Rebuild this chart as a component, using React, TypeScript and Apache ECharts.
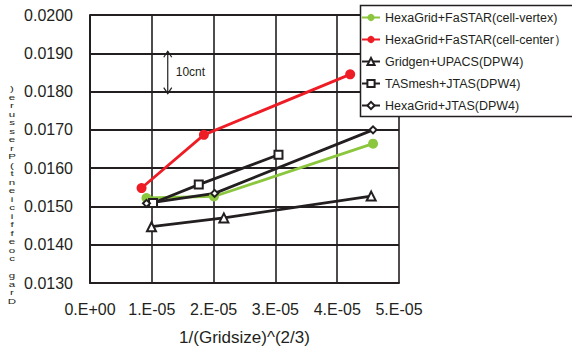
import React, { useEffect, useRef } from "react";
import * as echarts from "echarts";

const seriesNames = [
  "HexaGrid+FaSTAR(cell-vertex)",
  "HexaGrid+FaSTAR(cell-center）",
  "Gridgen+UPACS(DPW4)",
  "TASmesh+JTAS(DPW4)",
  "HexaGrid+JTAS(DPW4)",
];

const vertexX = [0.914e-5, 2.005e-5, 4.58e-5];
const vertexY = [0.01522, 0.01526, 0.01664];
const centerX = [0.834e-5, 1.843e-5, 4.21e-5];
const centerY = [0.01548, 0.01687, 0.01845];
const upacsX = [0.995e-5, 2.166e-5, 4.55e-5];
const upacsY = [0.01447, 0.0147, 0.01527];
const tasX = [1.02e-5, 1.76e-5, 3.05e-5];
const tasY = [0.01509, 0.01557, 0.01635];
const hexaJtasX = [0.914e-5, 2.016e-5, 4.58e-5];
const hexaJtasY = [0.01508, 0.01534, 0.017];

const yLabelText = "Drag coefficient(Pressure)";
const annotationText = "10cnt";
const annotationX = 1.258e-5;
const annotationY = [0.019, 0.018];

const FONT = "Liberation Sans, Arial, sans-serif";
const INK = "#231f20";

function pairs(xs: number[], ys: number[]) {
  return xs.map((x, i) => [x, ys[i]]);
}

export default function App() {
  const ref = useRef<HTMLDivElement>(null);
  useEffect(() => {
    if (!ref.current) return;
    const chart = echarts.init(ref.current, null, { renderer: "svg" });
    const lineSeries = (
      name: string,
      data: number[][],
      color: string,
      symbol: string,
      symbolSize: number
    ) => ({
      name,
      type: "line",
      data,
      symbol,
      symbolSize,
      z: 3,
      lineStyle: { color, width: 2.8 },
      itemStyle: { color, borderColor: color, borderWidth: symbol.startsWith("empty") ? 1.5 : 0 },
    });
    const option: any = {
      animation: false,
      grid: { left: 90, right: 173, top: 15, bottom: 64 },
      xAxis: {
        type: "value",
        min: 0,
        max: 5e-5,
        interval: 1e-5,
        name: "1/(Gridsize)^(2/3)",
        nameLocation: "middle",
        nameGap: 46,
        nameTextStyle: { fontFamily: FONT, fontSize: 17, color: INK },
        axisLine: { show: true, lineStyle: { color: INK, width: 2 } },
        axisTick: { show: false },
        axisLabel: {
          margin: 18,
          fontFamily: FONT,
          fontSize: 16,
          color: INK,
          formatter: (v: number) => {
            const n = Math.round(v * 1e5);
            return n === 0 ? "0.E+00" : n + ".E-05";
          },
        },
        splitLine: { show: true, lineStyle: { color: INK, width: 1.6 } },
      },
      yAxis: {
        type: "value",
        min: 0.013,
        max: 0.02,
        interval: 0.001,
        axisLine: { show: true, lineStyle: { color: INK, width: 2 } },
        axisTick: { show: false },
        axisLabel: {
          margin: 17,
          fontFamily: FONT,
          fontSize: 16,
          color: INK,
          formatter: (v: number) => v.toFixed(4),
        },
        splitLine: { show: true, lineStyle: { color: INK, width: 2 } },
      },
      legend: {
        orient: "vertical",
        left: 356,
        top: 6,
        itemWidth: 18,
        itemHeight: 9,
        itemGap: 9,
        z: 5,
        textStyle: { fontFamily: FONT, fontSize: 12.5, color: INK },
        data: seriesNames,
      },
      series: [
        lineSeries(seriesNames[0], pairs(vertexX, vertexY), "#8cc63f", "circle", 10),
        lineSeries(seriesNames[1], pairs(centerX, centerY), "#ee1c25", "circle", 10),
        lineSeries(seriesNames[2], pairs(upacsX, upacsY), INK, "emptyTriangle", 9),
        lineSeries(seriesNames[3], pairs(tasX, tasY), INK, "emptyRect", 8),
        lineSeries(seriesNames[4], pairs(hexaJtasX, hexaJtasY), INK, "emptyDiamond", 7),
      ],
    };
    chart.setOption(option);

    const p1 = chart.convertToPixel({ gridIndex: 0 }, [annotationX, annotationY[0]]) as number[];
    const p2 = chart.convertToPixel({ gridIndex: 0 }, [annotationX, annotationY[1]]) as number[];
    const ax = p1[0];
    const top = p1[1] - 2;
    const bot = p2[1] + 2;
    chart.setOption({
      graphic: [
        {
          type: "rect",
          z: 4,
          shape: { x: 360.5, y: 5.5, width: 240, height: 111 },
          style: { fill: "#fff", stroke: INK, lineWidth: 1.5 },
        },
        {
          type: "line",
          z: 4,
          shape: { x1: ax, y1: top, x2: ax, y2: bot },
          style: { stroke: INK, lineWidth: 1.2 },
        },
        {
          type: "polyline",
          z: 4,
          shape: { points: [[ax - 4, top + 6], [ax, top], [ax + 4, top + 6]] },
          style: { stroke: INK, lineWidth: 1.2, fill: null },
        },
        {
          type: "polyline",
          z: 4,
          shape: { points: [[ax - 4, bot - 6], [ax, bot], [ax + 4, bot - 6]] },
          style: { stroke: INK, lineWidth: 1.2, fill: null },
        },
        {
          type: "text",
          z: 4,
          x: ax + 8,
          y: (top + bot) / 2,
          style: {
            text: annotationText,
            fontFamily: FONT,
            fontSize: 12,
            fill: INK,
            verticalAlign: "middle",
          },
        },
        {
          type: "text",
          z: 4,
          x: 12,
          y: 84,
          scaleY: 0.68,
          style: {
            text: yLabelText.split("").reverse().join("\n"),
            fontFamily: FONT,
            fontSize: 11.5,
            lineHeight: 12.5,
            fill: INK,
            align: "center",
          },
        },
      ],
    });
    return () => chart.dispose();
  }, []);
  return (
    <div
      ref={ref}
      style={{ position: "absolute", left: 0, top: 0, width: 572, height: 351, background: "#fff" }}
    />
  );
}
